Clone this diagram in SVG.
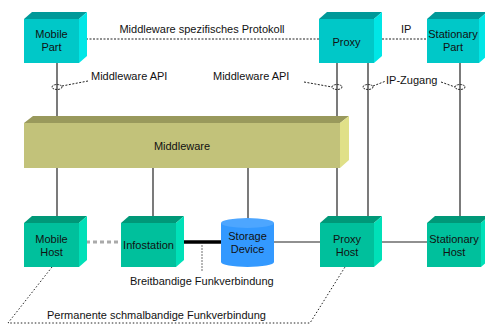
<svg xmlns="http://www.w3.org/2000/svg" width="485" height="325" viewBox="0 0 485 325">
  <style>
    text { font-family: "Liberation Sans", Arial, sans-serif; font-size: 11px; fill: #111; }
    .lbl { text-anchor: middle; }
    .line { stroke: #222; stroke-width: 1.2; fill: none; }
    .dash { stroke: #222; stroke-width: 1; stroke-dasharray: 2 1.5; fill: none; }
    .dot { stroke: #222; stroke-width: 1; stroke-dasharray: 1.5 2; fill: none; }
    .api { fill: none; stroke: #222; stroke-width: 1; stroke-dasharray: 2 1; }
    .pt-front { fill: #00C8C8; }
    .pt-top { fill: #009999; }
    .pt-side { fill: #00E6E6; }
    .ht-front { fill: #00C09C; }
    .ht-top { fill: #009878; }
    .ht-side { fill: #00E0B8; }
  </style>

  <!-- connectors -->
  <g id="connectors">
    <!-- protocol links between upper components -->
    <line class="dash" x1="86" y1="39" x2="319" y2="39"/>
    <line class="dash" x1="382" y1="39" x2="427" y2="39"/>
    <!-- verticals through the middleware layer -->
    <line class="line" x1="57" y1="63" x2="57" y2="123"/>
    <line class="line" x1="337" y1="63" x2="337" y2="118"/>
    <line class="line" x1="368" y1="63" x2="368" y2="216"/>
    <line class="line" x1="460" y1="63" x2="460" y2="216"/>
    <line class="line" x1="57" y1="168" x2="57" y2="223"/>
    <line class="line" x1="153" y1="168" x2="153" y2="223"/>
    <line class="line" x1="248" y1="168" x2="248" y2="222"/>
    <line class="line" x1="337" y1="168" x2="337" y2="216"/>
    <!-- API interface markers -->
    <ellipse class="api" cx="57" cy="87" rx="5" ry="2.5"/>
    <ellipse class="api" cx="337" cy="87" rx="5" ry="2.5"/>
    <ellipse class="api" cx="368" cy="87" rx="5" ry="2.5"/>
    <ellipse class="api" cx="460" cy="87" rx="5" ry="2.5"/>
    <line class="dash" x1="62" y1="86" x2="88" y2="81"/>
    <line class="dash" x1="304" y1="82" x2="332" y2="87"/>
    <line class="dash" x1="373" y1="86" x2="386" y2="81"/>
    <line class="dash" x1="441" y1="82" x2="455" y2="87"/>
    <!-- bottom row links -->
    <line x1="86" y1="242" x2="121" y2="242" stroke="#AAAAAA" stroke-width="3" stroke-dasharray="4 3"/>
    <line x1="179" y1="242" x2="222" y2="242" stroke="#000" stroke-width="3.5"/>
    <line x1="202" y1="245" x2="202" y2="271" stroke="#888" stroke-width="1.2" stroke-dasharray="2 1"/>
    <line class="line" x1="274" y1="242" x2="320" y2="242" stroke="#444"/>
    <line class="line" x1="382" y1="242" x2="427" y2="242" stroke="#444"/>
    <!-- permanent narrowband radio link -->
    <polyline class="dot" points="52,267 8,323 310,323 345,267"/>
  </g>

  <!-- upper components -->
  <g id="mobile-part">
    <polygon class="pt-top" points="24,19 32,12 87,12 79,19"/>
    <polygon class="pt-side" points="79,19 87,12 87,56 79,63"/>
    <rect class="pt-front" x="24" y="19" width="55" height="44"/>
    <text class="lbl" x="51.5" y="38">Mobile</text>
    <text class="lbl" x="51.5" y="51">Part</text>
  </g>
  <g id="proxy">
    <polygon class="pt-top" points="319,19 327,12 382,12 374,19"/>
    <polygon class="pt-side" points="374,19 382,12 382,56 374,63"/>
    <rect class="pt-front" x="319" y="19" width="55" height="44"/>
    <text class="lbl" x="346.5" y="46">Proxy</text>
  </g>
  <g id="stationary-part">
    <polygon class="pt-top" points="427,19 435,12 487,12 479,19"/>
    <polygon class="pt-side" points="479,19 487,12 487,56 479,63"/>
    <rect class="pt-front" x="427" y="19" width="52" height="44"/>
    <text class="lbl" x="453" y="38">Stationary</text>
    <text class="lbl" x="453" y="51">Part</text>
  </g>

  <!-- middleware layer -->
  <g id="middleware">
    <polygon fill="#99995C" points="24,123 33,116 349,116 340,123"/>
    <polygon fill="#E0E088" points="340,123 349,116 349,160 340,168"/>
    <rect x="24" y="123" width="316" height="45" fill="#C2C27A"/>
    <text class="lbl" x="182" y="150">Middleware</text>
  </g>

  <!-- lower components -->
  <g id="mobile-host">
    <polygon class="ht-top" points="24,223 32,216 87,216 79,223"/>
    <polygon class="ht-side" points="79,223 87,216 87,260 79,267"/>
    <rect class="ht-front" x="24" y="223" width="55" height="44"/>
    <text class="lbl" x="51.5" y="243">Mobile</text>
    <text class="lbl" x="51.5" y="256">Host</text>
  </g>
  <g id="infostation">
    <polygon class="ht-top" points="121,223 129,216 184,216 176,223"/>
    <polygon class="ht-side" points="176,223 184,216 184,260 176,267"/>
    <rect class="ht-front" x="121" y="223" width="55" height="44"/>
    <text class="lbl" x="148.5" y="249">Infostation</text>
  </g>
  <g id="storage-device">
    <path d="M221,223 L221,262 A26.5,5 0 0 0 274,262 L274,223 Z" fill="#3399FF"/>
    <ellipse cx="247.5" cy="223" rx="26.5" ry="5" fill="#4DA6FF"/>
    <text class="lbl" x="247.5" y="240">Storage</text>
    <text class="lbl" x="247.5" y="253">Device</text>
  </g>
  <g id="proxy-host">
    <polygon class="ht-top" points="320,223 328,216 382,216 374,223"/>
    <polygon class="ht-side" points="374,223 382,216 382,260 374,267"/>
    <rect class="ht-front" x="320" y="223" width="54" height="44"/>
    <text class="lbl" x="347" y="243">Proxy</text>
    <text class="lbl" x="347" y="256">Host</text>
  </g>
  <g id="stationary-host">
    <polygon class="ht-top" points="427,223 435,216 489,216 481,223"/>
    <polygon class="ht-side" points="481,223 489,216 489,260 481,267"/>
    <rect class="ht-front" x="427" y="223" width="54" height="44"/>
    <text class="lbl" x="454" y="243">Stationary</text>
    <text class="lbl" x="454" y="256">Host</text>
  </g>

  <!-- connector labels -->
  <g id="labels">
    <text class="lbl" x="202" y="33">Middleware spezifisches Protokoll</text>
    <text x="401" y="33">IP</text>
    <text x="91" y="80">Middleware API</text>
    <text x="213" y="80">Middleware API</text>
    <text x="386" y="84">IP-Zugang</text>
    <text x="130" y="285">Breitbandige Funkverbindung</text>
    <text x="47" y="319">Permanente schmalbandige Funkverbindung</text>
  </g>
</svg>
